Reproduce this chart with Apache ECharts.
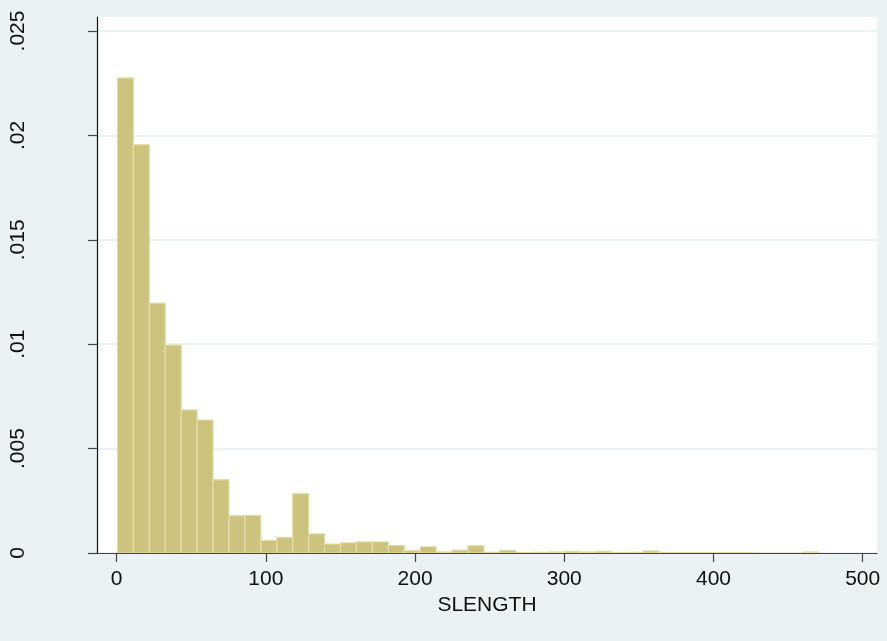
<!DOCTYPE html>
<html>
<head>
<meta charset="utf-8">
<script src="https://cdn.jsdelivr.net/npm/echarts@6/dist/echarts.min.js"></script>
<style>
html,body{margin:0;padding:0;background:#EAF2F3;}
#chart{width:887px;height:641px;}
</style>
</head>
<body>
<div id="chart"></div>
<script>
// Histogram bin edges (SLENGTH)
var binEdges = [0.5, 11.18, 21.86, 32.54, 43.22, 53.9, 64.58, 75.26, 85.94, 96.62,
  107.3, 117.98, 128.66, 139.34, 150.02, 160.7, 171.38, 182.06, 192.74, 203.42,
  214.1, 224.78, 235.46, 246.14, 256.82, 267.5, 278.18, 288.86, 299.54, 310.22,
  320.9, 331.58, 342.26, 352.94, 363.62, 374.3, 384.98, 395.66, 406.34, 417.02,
  427.7, 438.38, 449.06, 459.74, 470.42];
// Density per bin
var density = [0.02275, 0.01956, 0.01197, 0.00996, 0.00685, 0.00637, 0.00351, 0.00179, 0.00180, 0.00060,
  0.00075, 0.00284, 0.00092, 0.00043, 0.00049, 0.00053, 0.00053, 0.00036, 0.00011, 0.00030,
  0.00005, 0.00014, 0.00035, 0.00003, 0.00013, 0.00002, 0.00003, 0.00005, 0.00008, 0.00005,
  0.00008, 0.00002, 0.00003, 0.00010, 0.00002, 0.00002, 0.00002, 0.00002, 0.00002, 0.00002,
  0, 0, 0, 0.00005];
var xTicks = [0, 100, 200, 300, 400, 500];
var yTicks = [0, 0.005, 0.01, 0.015, 0.02, 0.025];
var xTitle = 'SLENGTH';

var data = density.map(function (d, i) { return [binEdges[i], binEdges[i + 1], d]; });

var chart = echarts.init(document.getElementById('chart'), null, {renderer: 'canvas'});
var font = "'Liberation Sans', Arial, sans-serif";
chart.setOption({
  backgroundColor: '#EAF2F3',
  animation: false,
  grid: {left: 97, right: 10, top: 17, bottom: 88, show: true, backgroundColor: '#ffffff', borderWidth: 0},
  xAxis: {
    type: 'value', min: -13.2, max: 509.6,
    name: xTitle, nameLocation: 'middle', nameGap: 41,
    nameTextStyle: {fontFamily: font, fontSize: 21, color: '#111'},
    axisLine: {show: true, onZero: false, lineStyle: {color: '#444', width: 1.2}},
    axisTick: {show: true, length: 9, customValues: xTicks, lineStyle: {color: '#444', width: 1.2}},
    axisLabel: {customValues: xTicks, margin: 16, fontFamily: font, fontSize: 21, color: '#111'},
    splitLine: {show: false}
  },
  yAxis: {
    type: 'value', min: 0, max: 0.02567,
    axisLine: {show: true, onZero: false, lineStyle: {color: '#111', width: 1.2}},
    axisTick: {show: true, length: 9, customValues: yTicks, lineStyle: {color: '#444', width: 1.2}},
    axisLabel: {
      customValues: yTicks, rotate: 90, margin: 68, fontFamily: font, fontSize: 21, color: '#111',
      formatter: function (v) { return v === 0 ? '0' : String(+v.toFixed(4)).replace(/^0/, ''); }
    },
    splitLine: {show: true, lineStyle: {color: '#E6EFF2', width: 1.5}}
  },
  series: [{
    type: 'custom',
    data: data,
    encode: {x: [0, 1], y: 2},
    clip: true,
    renderItem: function (params, api) {
      var p0 = api.coord([api.value(0), api.value(2)]);
      var p1 = api.coord([api.value(1), 0]);
      return {
        type: 'rect',
        shape: {x: p0[0], y: p0[1], width: p1[0] - p0[0], height: p1[1] - p0[1]},
        style: {fill: '#CCC47E', stroke: '#E3DDAA', lineWidth: 1.2}
      };
    }
  }]
});
</script>
</body>
</html>
